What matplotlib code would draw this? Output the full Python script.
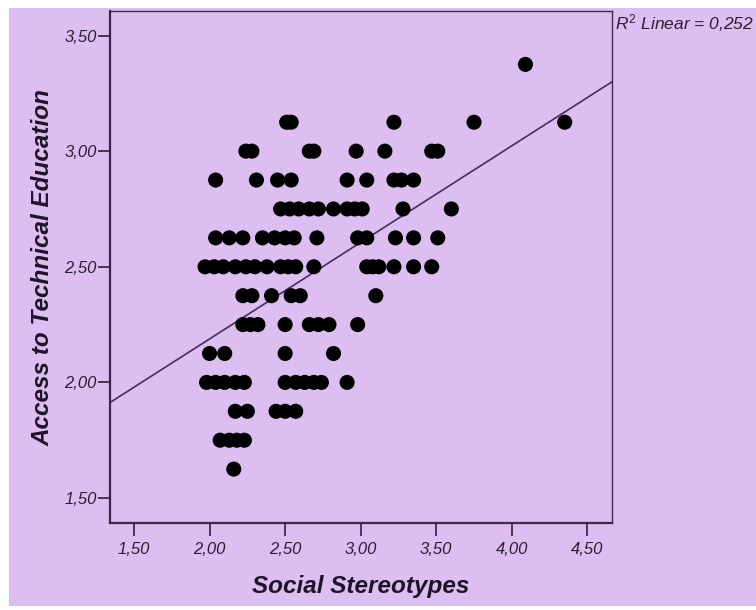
import matplotlib
matplotlib.use("Agg")
import matplotlib.pyplot as plt
import numpy as np
from matplotlib.ticker import FuncFormatter

plt.rcParams['font.family'] = ['Liberation Sans', 'DejaVu Sans']
plt.rcParams['mathtext.fontset'] = 'custom'
plt.rcParams['mathtext.rm'] = 'Liberation Sans'
plt.rcParams['mathtext.it'] = 'Liberation Sans:italic'

# Access to Technical Education levels (rows) and Social Stereotypes values in each row
access_levels = [3.375, 3.125, 3.0, 2.875, 2.75, 2.625, 2.5,
                 2.375, 2.25, 2.125, 2.0, 1.875, 1.75, 1.625]
stereotypes_by_level = [
    [4.09],
    [2.51, 2.54, 3.22, 3.75, 4.35],
    [2.24, 2.28, 2.66, 2.69, 2.97, 3.16, 3.47, 3.51],
    [2.04, 2.31, 2.45, 2.54, 2.91, 3.04, 3.22, 3.27, 3.35],
    [2.47, 2.53, 2.59, 2.66, 2.72, 2.82, 2.91, 2.96, 3.01, 3.28, 3.60],
    [2.04, 2.13, 2.22, 2.35, 2.43, 2.50, 2.56, 2.71, 2.98, 3.04, 3.23, 3.35, 3.51],
    [1.97, 2.03, 2.09, 2.17, 2.24, 2.30, 2.38, 2.47, 2.52, 2.57, 2.69,
     3.04, 3.08, 3.12, 3.22, 3.35, 3.47],
    [2.22, 2.28, 2.41, 2.54, 2.60, 3.10],
    [2.22, 2.27, 2.32, 2.50, 2.66, 2.72, 2.79, 2.98],
    [2.00, 2.10, 2.50, 2.82],
    [1.98, 2.04, 2.10, 2.17, 2.23, 2.50, 2.57, 2.63, 2.69, 2.74, 2.91],
    [2.17, 2.25, 2.44, 2.50, 2.57],
    [2.07, 2.13, 2.18, 2.23],
    [2.16],
]

# Linear fit
fit_intercept = 1.353
fit_slope = 0.4175
r2_text = r'$R^2$ Linear = 0,252'

x_ticks = [1.5, 2.0, 2.5, 3.0, 3.5, 4.0, 4.5]
y_ticks = [1.5, 2.0, 2.5, 3.0, 3.5]

bg = '#dcbef0'
dark = '#3a2c48'

fig = plt.figure(figsize=(7.56, 6.10), dpi=100, facecolor='white')
fig.patches.append(plt.Rectangle((9 / 756, 4 / 610), 1, 1 - 12 / 610,
                                 transform=fig.transFigure, facecolor=bg,
                                 edgecolor='none', zorder=-10))

ax = fig.add_axes([110 / 756, (610 - 523) / 610, 502 / 756, 512 / 610])
ax.set_facecolor(bg)

xs = []
ys = []
for level, row in zip(access_levels, stereotypes_by_level):
    xs.extend(row)
    ys.extend([level] * len(row))
ax.scatter(xs, ys, s=118, color='black', edgecolors='none', zorder=3)

ax.set_xlim(1.341, 4.663)
ax.set_ylim(1.392, 3.606)

line_x = np.array(ax.get_xlim())
ax.plot(line_x, fit_intercept + fit_slope * line_x, color='#4a2c5c', lw=1.2, zorder=2)

ax.set_xticks(x_ticks)
ax.set_yticks(y_ticks)
fmt = FuncFormatter(lambda v, p: f"{v:.2f}".replace('.', ','))
ax.xaxis.set_major_formatter(fmt)
ax.yaxis.set_major_formatter(fmt)
ax.tick_params(direction='out', length=9, width=1.3, color=dark,
               labelsize=12, labelcolor='#2a2030')
ax.tick_params(axis='x', pad=5)
ax.tick_params(axis='y', pad=0.5)
for lab in ax.get_xticklabels() + ax.get_yticklabels():
    lab.set_fontstyle('italic')

for s in ax.spines.values():
    s.set_color(dark)
    s.set_linewidth(1.0)
ax.spines['left'].set_linewidth(1.6)
ax.spines['bottom'].set_linewidth(1.6)

ax.set_xlabel('Social Stereotypes', fontsize=17.5, fontweight='bold',
              fontstyle='italic', color='#1e1428', labelpad=13)
ax.set_ylabel('Access to Technical Education', fontsize=17.5, fontweight='bold',
              fontstyle='italic', color='#1e1428', labelpad=7)

fig.text(615 / 756, 1 - 23 / 610, r2_text, fontsize=12.5, fontstyle='italic',
         color='#2a2030', va='center', ha='left')

fig.savefig('out.png', dpi=100, facecolor='white')
